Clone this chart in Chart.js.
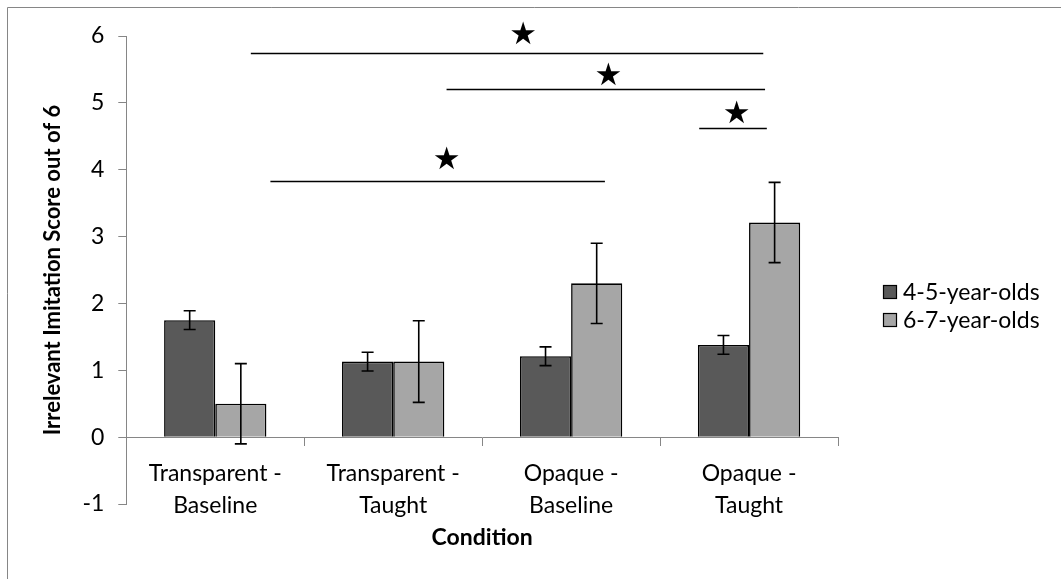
<!DOCTYPE html>
<html>
<head>
<meta charset="utf-8">
<script src="https://cdn.jsdelivr.net/npm/chart.js@4.4.1/dist/chart.umd.min.js"></script>
<style>
  html, body { margin: 0; padding: 0; background: #fff; }
  #wrap { position: relative; width: 1061px; height: 579px; }
</style>
</head>
<body>
<div id="wrap"><canvas id="chart"></canvas></div>
<script>
// ── DATA ──────────────────────────────────────────────────────────
const conditions = [
  ["Transparent -", "Baseline"],
  ["Transparent -", "Taught"],
  ["Opaque -", "Baseline"],
  ["Opaque -", "Taught"]
];
const seriesNames = ["4-5-year-olds", "6-7-year-olds"];

const youngScores = [1.75, 1.13, 1.21, 1.38];
const youngErrors = [0.14, 0.14, 0.14, 0.14];
const oldScores   = [0.50, 1.13, 2.30, 3.21];
const oldErrors   = [0.60, 0.61, 0.60, 0.60];

const yTicks = [-1, 0, 1, 2, 3, 4, 5, 6];

// significance brackets (x in category units, y in score units)
const sigFrom  = [0.20, 1.30, 2.72, 0.31];
const sigTo    = [3.08, 3.09, 3.10, 2.19];
const sigLevel = [5.75, 5.21, 4.63, 3.83];
const starX    = [1.73, 2.21, 2.93, 1.30];
const starY    = [6.00, 5.39, 4.82, 4.13];

// ── STYLE ─────────────────────────────────────────────────────────
const FONT   = "Lato";
const AXIS   = "#868686";
const DARK   = "#595959";
const LIGHT  = "#a6a6a6";

// ── PLUGINS ───────────────────────────────────────────────────────
// Error bars — read from each dataset's `errors` array
const errorBars = {
  id: "errorBars",
  afterDatasetsDraw(chart) {
    const ctx = chart.ctx;
    const y = chart.scales.y;
    ctx.save();
    ctx.strokeStyle = "#000";
    ctx.lineWidth = 1.6;
    chart.data.datasets.forEach((ds, i) => {
      const meta = chart.getDatasetMeta(i);
      meta.data.forEach((bar, j) => {
        const v = ds.data[j], e = ds.errors[j];
        const top = y.getPixelForValue(v + e);
        const bot = y.getPixelForValue(v - e);
        const x = bar.x;
        ctx.beginPath();
        ctx.moveTo(x, top); ctx.lineTo(x, bot);
        ctx.moveTo(x - 6, top); ctx.lineTo(x + 6, top);
        ctx.moveTo(x - 6, bot); ctx.lineTo(x + 6, bot);
        ctx.stroke();
      });
    });
    ctx.restore();
  }
};

// Significance lines + stars, legend, outer frame
const extras = {
  id: "extras",
  afterDraw(chart) {
    const ctx = chart.ctx;
    const xs = chart.scales.x, ys = chart.scales.y;
    ctx.save();

    // frame (only top/left edges are inside the picture)
    ctx.strokeStyle = AXIS;
    ctx.lineWidth = 1;
    ctx.beginPath();
    ctx.moveTo(7.5, 1000); ctx.lineTo(7.5, 7.5); ctx.lineTo(2000, 7.5);
    ctx.stroke();

    // brackets
    ctx.strokeStyle = "#000";
    ctx.lineWidth = 1.6;
    sigFrom.forEach((f, i) => {
      const yy = Math.round(ys.getPixelForValue(sigLevel[i])) + 0.5;
      ctx.beginPath();
      ctx.moveTo(xs.getPixelForValue(f), yy);
      ctx.lineTo(xs.getPixelForValue(sigTo[i]), yy);
      ctx.stroke();
    });

    ctx.fillStyle = "#000";
    ctx.font = "31px 'DejaVu Sans'";
    ctx.textAlign = "center";
    ctx.textBaseline = "middle";
    starX.forEach((sx, i) => {
      ctx.fillText("\u2605", xs.getPixelForValue(sx), ys.getPixelForValue(starY[i]));
    });

    // legend
    const colors = [DARK, LIGHT];
    ctx.font = "23px " + FONT;
    ctx.textAlign = "left";
    seriesNames.forEach((name, i) => {
      const cy = 292 + i * 28;
      ctx.fillStyle = colors[i];
      ctx.fillRect(883, cy - 7, 14, 14);
      ctx.strokeStyle = "#000";
      ctx.lineWidth = 1.2;
      ctx.strokeRect(883.5, cy - 6.5, 13, 13);
      ctx.fillStyle = "#000";
      ctx.fillText(name, 903, cy + 1);
    });

    ctx.restore();
  }
};

// ── CHART ─────────────────────────────────────────────────────────
new Chart(document.getElementById("chart"), {
  type: "bar",
  data: {
    labels: conditions,
    datasets: [
      {
        label: seriesNames[0],
        data: youngScores,
        errors: youngErrors,
        backgroundColor: DARK,
        borderColor: "#000",
        borderWidth: 1.6,
        categoryPercentage: 0.575,
        barPercentage: 1.0
      },
      {
        label: seriesNames[1],
        data: oldScores,
        errors: oldErrors,
        backgroundColor: LIGHT,
        borderColor: "#000",
        borderWidth: 1.6,
        categoryPercentage: 0.575,
        barPercentage: 1.0
      }
    ]
  },
  options: {
    responsive: true,
    maintainAspectRatio: false,
    animation: false,
    layout: { padding: { left: 36, right: 223, top: 36, bottom: 75 } },
    plugins: {
      legend: { display: false },
      tooltip: { enabled: false }
    },
    scales: {
      x: {
        position: { y: 0 },
        grid: {
          offset: true,
          drawOnChartArea: false,
          tickLength: 8,
          color: AXIS
        },
        border: { color: AXIS, width: 1 },
        ticks: {
          color: "#000",
          font: { family: FONT, size: 23, lineHeight: 1.4 },
          padding: 12,
          maxRotation: 0
        },
        title: {
          display: true,
          text: "Condition",
          color: "#000",
          font: { family: FONT, size: 23, weight: "bold" },
          padding: { top: -10, bottom: 0 }
        }
      },
      y: {
        min: -1,
        max: 6,
        afterBuildTicks: axis => { axis.ticks = yTicks.map(v => ({ value: v })); },
        grid: {
          drawOnChartArea: false,
          tickLength: 8,
          color: AXIS
        },
        border: { color: AXIS, width: 1 },
        ticks: {
          color: "#000",
          font: { family: FONT, size: 23 },
          padding: 14
        },
        title: {
          display: true,
          text: "Irrelevant Imitation Score out of 6",
          color: "#000",
          font: { family: FONT, size: 22, weight: "bold" },
          padding: { top: 4, bottom: 2 }
        }
      }
    }
  },
  plugins: [errorBars, extras]
});
</script>
</body>
</html>
